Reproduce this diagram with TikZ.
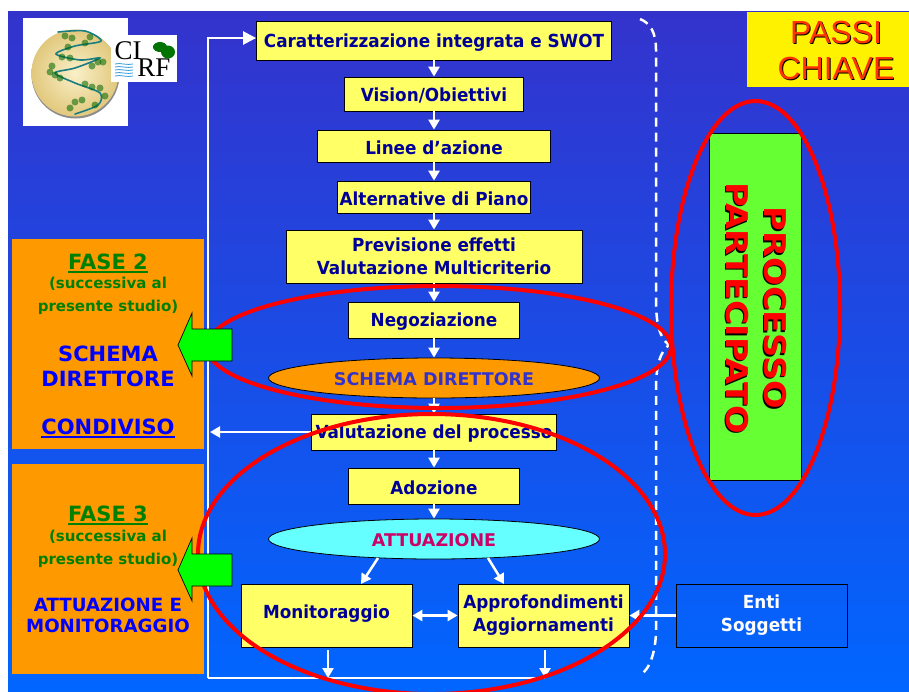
\documentclass[tikz,border=0pt]{standalone}
\usepackage{fontspec}
\usepackage{xcolor}
\usepackage{tikz}
\usetikzlibrary{arrows.meta,shapes.geometric}
\setmainfont{DejaVu Sans}
\newfontfamily\boxfont{DejaVu Sans}[FakeStretch=0.935]
\newfontfamily\widefont{DejaVu Sans}[FakeStretch=1.12]
\newfontfamily\arialfont{Liberation Sans}
\newfontfamily\logofont{Liberation Serif}
\definecolor{bgtop}{RGB}{51,51,204}
\definecolor{bgbot}{RGB}{0,102,255}
\definecolor{boxyellow}{RGB}{255,255,102}
\definecolor{boxorange}{RGB}{255,153,0}
\definecolor{boxcyan}{RGB}{102,255,255}
\definecolor{boxgreen}{RGB}{102,255,51}
\definecolor{navytext}{RGB}{0,0,153}
\definecolor{fasegreen}{RGB}{0,128,0}
\definecolor{attuapink}{RGB}{204,0,102}
\definecolor{passired}{RGB}{255,51,0}
\definecolor{rivergreen}{RGB}{25,125,130}
\definecolor{globelight}{RGB}{250,240,200}
\definecolor{globeedge}{RGB}{225,200,125}
\newcommand{\shadowline}[2]{\leavevmode\rlap{\kern#1\raisebox{-#1}{\color{black}#2}}#2}
\newsavebox{\underbox}
\newcommand{\thickunder}[1]{\sbox{\underbox}{#1}\usebox{\underbox}\llap{\rule[-3.5pt]{\wd\underbox}{1.8pt}}}
\tikzset{
    flow/.style={white,line width=2.5pt,-{Triangle[length=10pt,width=11pt]}},
    flowboth/.style={white,line width=2.5pt,{Triangle[length=10pt,width=11pt]}-{Triangle[length=10pt,width=11pt]}},
    stepbox/.style={draw=black,line width=0.8pt,fill=boxyellow,text=navytext,font=\boxfont\bfseries\fontsize{18}{23}\selectfont,align=center,inner sep=0pt,execute at begin node={\rule{0pt}{17.5pt}}},
    stateoval/.style={ellipse,draw=black,line width=0.8pt,inner sep=0pt,font=\bfseries\fontsize{17.5}{22}\selectfont,execute at begin node={\rule{0pt}{14.8pt}}},
    redoval/.style={ellipse,draw=red,line width=4pt,inner sep=0pt},
    fasebox/.style={fill=boxorange,inner sep=0pt},
    fasetitle/.style={text=fasegreen,font=\bfseries\fontsize{21}{24}\selectfont},
    fasesub/.style={text=fasegreen,font=\bfseries\fontsize{15}{23}\selectfont,align=center},
    fasename/.style={text=blue,font=\bfseries\fontsize{21}{25}\selectfont,align=center},
    greenarrow/.style={draw=black,line width=0.7pt,fill=green}
}

\begin{document}
\begin{tikzpicture}[x=1pt,y=-1pt]
    \useasboundingbox (0,0) rectangle (909,691);
    \fill[white] (0,0) rectangle (909,691);
    \fill[top color=bgtop,bottom color=bgbot] (8,11) rectangle (909,691);

    % logo
    \fill[white] (23,18) rectangle (128,126);
    \fill[black!45] (75.5,74.5) circle (44);
    \node[circle,minimum size=87pt,inner sep=0pt,inner color=globelight,outer color=globeedge] (globe) at (75,73) {};
    \draw[rivergreen,line width=1.6pt,line cap=round] plot[smooth] coordinates {(58,32) (85,31) (101,41) (75,46) (56,54) (80,60) (100,58) (75,68) (55,73) (75,83) (100,93) (98,105) (75,114)};
    \foreach \tx/\ty in {65/36, 72/38, 90/37, 68/47, 85/43, 62/57, 70/58, 98/62, 103/62, 92/66, 55/75, 50/72, 60/78, 52/66, 85/84, 92/87, 100/88, 105/96, 75/102, 82/100, 95/105, 70/108}
        \fill[green!40!black,opacity=0.55] (\tx,\ty) circle (3.5);
    \fill[white] (111,35) rectangle (177,82);
    \node[font=\logofont\fontsize{27}{27}\selectfont,inner sep=0pt] (logoci) at (128,51) {CI};
    \node[font=\logofont\fontsize{27}{27}\selectfont,inner sep=0pt] (logorf) at (154,68) {RF};
    \foreach \wy in {64,67,70,73,76}
        \draw[cyan!70!blue,line width=0.7pt] (115,\wy) .. controls (120,\wy-1.5) and (127,\wy+1.5) .. (133,\wy);
    \fill[green!45!black] (160,47) ellipse (7 and 5);
    \fill[green!45!black] (168,52) ellipse (7 and 6.5);

    % passi chiave
    \node[fill=yellow,minimum width=162pt,minimum height=75pt,inner sep=0pt] (passibox) at (828,49.5) {};
    \node[text=passired,font=\arialfont\fontsize{32}{36}\selectfont,align=center,inner sep=0pt] (passi) at (836,50.5) {\shadowline{1pt}{PASSI}\\\shadowline{1pt}{CHIAVE}};

    % fasi
    \node[fasebox,minimum width=192pt,minimum height=210pt] (fase2box) at (108,344) {};
    \node[fasebox,minimum width=192pt,minimum height=210pt] (fase3box) at (108,569) {};
    \node[fasetitle] (fase2title) at (108,263) {\thickunder{FASE 2}};
    \node[fasesub] (fase2sub) at (108,296) {(successiva al\\presente studio)};
    \node[fasename] (fase2name) at (108,366) {SCHEMA\\DIRETTORE};
    \node[fasename] (fase2cond) at (108,428) {\thickunder{CONDIVISO}};
    \node[fasetitle] (fase3title) at (108,515) {\thickunder{FASE 3}};
    \node[fasesub] (fase3sub) at (108,549) {(successiva al\\presente studio)};
    \node[fasename,font=\bfseries\fontsize{18.2}{21}\selectfont] (fase3name) at (108,615) {ATTUAZIONE E\\MONITORAGGIO};

    % dashed brace
    \coordinate (bracetop) at (640,19);
    \coordinate (bracetip) at (669,345);
    \coordinate (braceend) at (640,675);
    \draw[white,line width=2.5pt,dash pattern=on 9pt off 6pt] (bracetop) .. controls (650,23) and (656,32) .. (656,50) -- (656,300) .. controls (656,325) and (660,338) .. (bracetip) .. controls (660,352) and (656,365) .. (656,390) -- (656,630) .. controls (656,650) and (650,670) .. (braceend);

    % steps
    \node[stepbox,minimum width=355pt,minimum height=39pt,execute at begin node={\rule{0pt}{15.6pt}}] (carat) at (434,40.5) {Caratterizzazione integrata e SWOT};
    \node[stepbox,minimum width=179pt,minimum height=34pt] (vision) at (434,94) {Vision/Obiettivi};
    \node[stepbox,minimum width=233pt,minimum height=32pt] (linee) at (434,146) {Linee d’azione};
    \node[stepbox,minimum width=193pt,minimum height=32pt] (altern) at (434,197) {Alternative di Piano};
    \node[stepbox,minimum width=296pt,minimum height=53pt] (previs) at (434,256.5) {Previsione effetti\\Valutazione Multicriterio};
    \node[stepbox,minimum width=171pt,minimum height=36pt] (negoz) at (434,320) {Negoziazione};
    \node[stateoval,fill=boxorange,text=bgtop,minimum width=331pt,minimum height=40pt] (schema) at (434,378) {SCHEMA DIRETTORE};
    \node[stepbox,minimum width=245pt,minimum height=36pt] (valut) at (434,432) {Valutazione del processo};
    \node[stepbox,minimum width=171pt,minimum height=36pt] (adoz) at (434,486) {Adozione};
    \node[stateoval,fill=boxcyan,text=attuapink,minimum width=331pt,minimum height=40pt] (attua) at (434,539) {ATTUAZIONE};
    \node[stepbox,minimum width=171pt,minimum height=63pt] (monit) at (326.5,615.5) {\raisebox{8pt}{Monitoraggio}};
    \node[stepbox,minimum width=171pt,minimum height=63pt] (approf) at (543.5,615.5) {Approfondimenti\\Aggiornamenti};
    \node[stepbox,fill=none,text=white,minimum width=171pt,minimum height=63pt] (enti) at (761.5,615.5) {Enti\\Soggetti};

    % connectors
    \draw[flow] (carat) -- (vision);
    \draw[flow] (vision) -- (linee);
    \draw[flow] (linee) -- (altern);
    \draw[flow] (altern) -- (previs);
    \draw[flow] (previs) -- (negoz);
    \draw[flow] (negoz) -- (schema);
    \draw[flow] (schema) -- (valut);
    \draw[flow] (valut) -- (adoz);
    \draw[flow] (adoz) -- (attua);
    \coordinate (attuaL) at (378,558);
    \coordinate (attuaR) at (488,558);
    \coordinate (monitIn) at (361,584);
    \coordinate (approfIn) at (504,584);
    \draw[flow] (attuaL) -- (monitIn);
    \draw[flow] (attuaR) -- (approfIn);
    \draw[flowboth] (monit) -- (approf);
    \draw[flow] (enti) -- (approf);

    % feedback frame
    \coordinate (frameright) at (545,678);
    \coordinate (framecorner) at (208,678);
    \coordinate (frametop) at (208,38);
    \coordinate (framemid) at (210,432);
    \draw[white,line width=2.5pt] (frameright) -- (framecorner);
    \draw[white,line width=2.5pt,-{Triangle[length=13pt,width=13pt]}] (framecorner) -- (frametop) -- (carat.west |- frametop);
    \draw[flow] (valut) -- (framemid);
    \draw[flow,shorten <=3pt] ([xshift=1.5pt]monit.south) -- ([xshift=1.5pt]monit.south |- frameright);
    \draw[flow,shorten <=3pt] ([xshift=1.5pt]approf.south) -- ([xshift=1.5pt]approf.south |- frameright);

    % processo partecipato
    \node[draw=black,line width=0.8pt,fill=boxgreen,minimum width=92pt,minimum height=347pt,inner sep=0pt] (procbox) at (755,306.5) {};
    \node[rotate=-90,text=red,font=\widefont\bfseries\fontsize{30}{38}\selectfont,align=center,inner sep=0pt] (proctext) at (756,308) {\shadowline{1.5pt}{PROCESSO}\\\shadowline{1.5pt}{PARTECIPATO}};

    % red ovals
    \node[redoval,minimum width=464pt,minimum height=122pt] (ovalschema) at (439,347) {};
    \node[redoval,minimum width=467pt,minimum height=280pt] (ovalattua) at (431.5,554) {};
    \node[redoval,minimum width=169pt,minimum height=414pt] (ovalproc) at (755.5,308) {};

    % key arrows
    \draw[greenarrow] (178,345) -- (192,313) -- (192,329) -- (232,329) -- (232,361) -- (192,361) -- (192,376) -- cycle;
    \draw[greenarrow,shift={(0,225)}] (178,345) -- (192,313) -- (192,329) -- (232,329) -- (232,361) -- (192,361) -- (192,376) -- cycle;
\end{tikzpicture}
\end{document}
